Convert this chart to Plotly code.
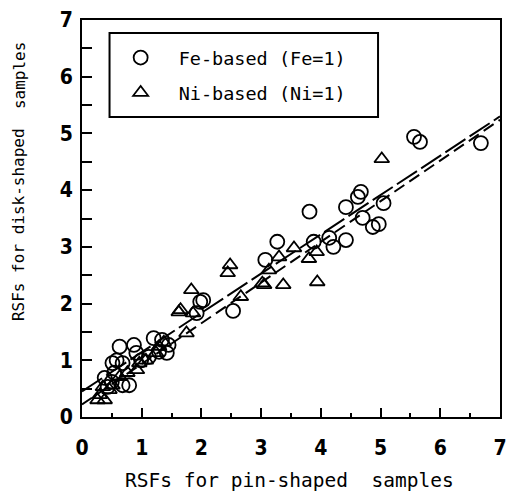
import plotly.graph_objects as go

# Relative sensitivity factors: pin-shaped (x) vs disk-shaped (y) samples
fe_x = [0.38, 0.50, 0.43, 0.68, 0.79, 0.51, 0.58, 0.68, 0.63, 0.87, 0.91, 0.99, 1.12,
        1.20, 1.34, 1.45, 1.42, 1.29, 0.54,
        1.92, 1.98, 2.03, 2.53,
        3.07, 3.27, 3.81, 3.88, 4.14, 4.21, 4.42, 4.42, 4.62, 4.67, 5.05, 4.70, 4.87,
        4.97, 5.56, 5.66, 6.68]
fe_y = [0.69, 0.62, 0.53, 0.56, 0.56, 0.95, 1.00, 0.95, 1.24, 1.27, 1.13, 1.00, 1.06,
        1.39, 1.36, 1.27, 1.13, 1.15, 0.78,
        1.83, 2.03, 2.06, 1.87,
        2.77, 3.09, 3.62, 3.09, 3.16, 3.00, 3.12, 3.70, 3.88, 3.97, 3.77, 3.51, 3.35,
        3.40, 4.94, 4.85, 4.83]

ni_x = [0.26, 0.38, 0.30, 0.35, 0.46, 0.51, 0.63, 0.76, 0.92, 0.96, 1.07, 1.24, 1.29,
        1.37, 1.62, 1.65, 1.75, 1.86, 1.83, 2.44, 2.48, 2.66, 3.02, 3.05, 3.13, 3.30,
        3.37, 3.55, 3.80, 3.93, 3.94, 5.02]
ni_y = [0.30, 0.30, 0.39, 0.53, 0.48, 0.56, 0.71, 0.78, 0.83, 0.95, 1.00, 1.13, 1.24,
        1.32, 1.85, 1.89, 1.48, 1.83, 2.24, 2.54, 2.68, 2.12, 2.36, 2.33, 2.59, 2.82,
        2.33, 2.98, 2.79, 2.91, 2.38, 4.55]

# Regression lines (end points)
fit_x = [0, 7]
fe_fit_y = [0.45, 5.30]
ni_fit_y = [0.22, 5.24]

tick_vals = [0, 1, 2, 3, 4, 5, 6, 7]
tick_text = ["0", "1", "2", "3", "4", "5", "6", "7"]

x_title = "RSFs for pin-shaped  samples"
# vertical title, set as two pieces along one column
y_title_parts = ["RSFs for disk-shaped", "samples"]

mono = "DejaVu Sans Mono, Liberation Mono, monospace"
narrow = "DejaVu Sans Condensed, Liberation Sans Narrow, Arial Narrow, sans-serif"

W, H = 511, 492
ML, MR, MT, MB = 82, 4, 20, 75
PW, PH = W - ML - MR, H - MT - MB


def px_x(p):
    return (p - ML) / PW


def px_y(p):
    return (H - MB - p) / PH


fig = go.Figure()

fig.add_trace(go.Scatter(
    x=fit_x, y=fe_fit_y, mode="lines", showlegend=False,
    line=dict(color="black", width=2, dash="24px,5px"), hoverinfo="skip"))
fig.add_trace(go.Scatter(
    x=fit_x, y=ni_fit_y, mode="lines", showlegend=False,
    line=dict(color="black", width=2, dash="12px,6px"), hoverinfo="skip"))

fig.add_trace(go.Scatter(
    x=fe_x, y=fe_y, mode="markers", name="Fe-based (Fe=1)", legendgroup="fe",
    marker=dict(symbol="circle-open", size=14, color="black", line=dict(width=1.8))))
fig.add_trace(go.Scatter(
    x=ni_x, y=ni_y, mode="markers", name="Ni-based (Ni=1)", legendgroup="ni",
    marker=dict(symbol="triangle-up-open", size=13, color="black", line=dict(width=1.8))))

axis_common = dict(
    range=[0, 7], tickmode="array", tickvals=tick_vals, ticktext=tick_text,
    showline=True, mirror=True, linecolor="black", linewidth=2,
    ticks="inside", tickwidth=2, tickcolor="black",
    showgrid=False, zeroline=False, ticklabeloverflow="allow",
    tickfont=dict(family=narrow, size=21, color="black", weight="bold"),
)

ytitle_font = dict(family=mono, size=16, color="black")

fig.update_layout(
    width=W, height=H,
    margin=dict(l=ML, r=MR, t=MT, b=MB),
    paper_bgcolor="white", plot_bgcolor="white",
    xaxis=dict(**axis_common, ticklen=9, ticklabelstandoff=11,
               minor=dict(tickmode="linear", dtick=0.5, ticks="inside", ticklen=4,
                          tickwidth=2, tickcolor="black")),
    yaxis=dict(**axis_common, ticklen=10, ticklabelstandoff=3,
               minor=dict(tickmode="linear", dtick=0.5, ticks="inside", ticklen=10,
                          tickwidth=2, tickcolor="black")),
    legend=dict(
        x=px_x(103), y=px_y(39), xanchor="left", yanchor="top",
        borderwidth=0, bgcolor="rgba(0,0,0,0)",
        font=dict(family=mono, size=18.5, color="black"),
        tracegroupgap=8, itemwidth=66,
    ),
    shapes=[
        # legend frame
        dict(type="rect", xref="paper", yref="paper",
             x0=px_x(110), x1=px_x(383), y0=px_y(117), y1=px_y(33),
             line=dict(color="black", width=2), fillcolor="rgba(0,0,0,0)", layer="below"),
    ],
    annotations=[
        dict(text=x_title, xref="paper", yref="paper",
             x=px_x(293), y=px_y(480), xanchor="center", yanchor="middle", showarrow=False,
             font=dict(family=mono, size=19.5, color="black")),
        dict(text=y_title_parts[0], xref="paper", yref="paper",
             x=px_x(18), y=px_y(225), xanchor="center", yanchor="middle", showarrow=False,
             textangle=-90, font=ytitle_font),
        dict(text=y_title_parts[1], xref="paper", yref="paper",
             x=px_x(18), y=px_y(76), xanchor="center", yanchor="middle", showarrow=False,
             textangle=-90, font=ytitle_font),
    ],
)

fig.write_html("out.html")
